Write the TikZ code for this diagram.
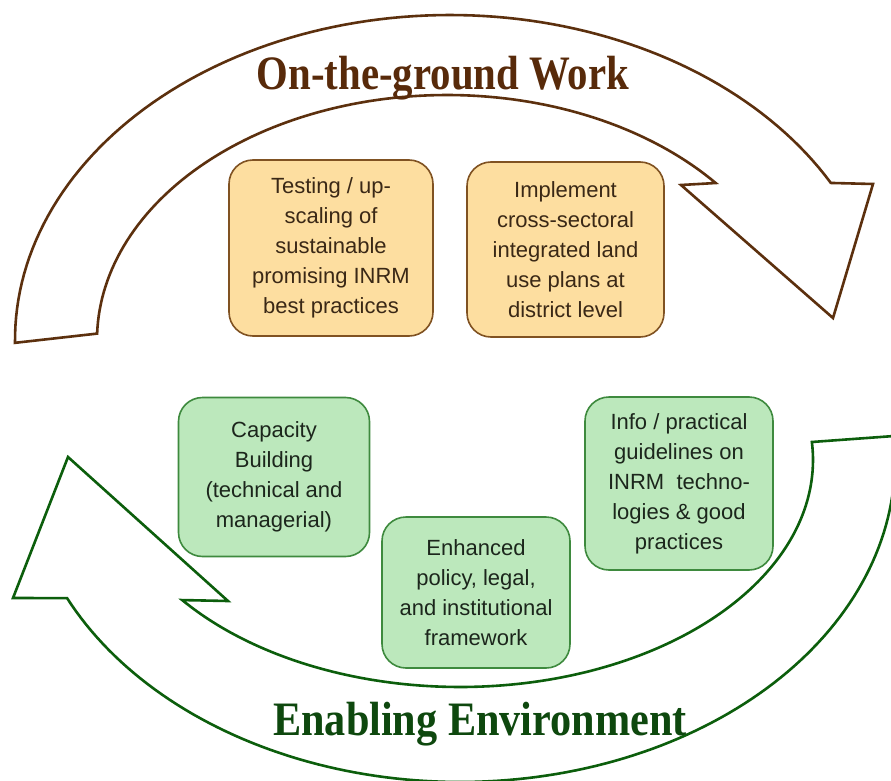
\documentclass[tikz,border=0pt]{standalone}
\usepackage{fontspec}
\usepackage{graphicx}
\setmainfont{Liberation Serif}
\setsansfont{Liberation Sans}
\definecolor{arrowbrown}{RGB}{92,48,14}
\definecolor{titlebrown}{RGB}{88,42,10}
\definecolor{arrowgreen}{RGB}{12,94,12}
\definecolor{titlegreen}{RGB}{14,72,14}
\definecolor{peach}{RGB}{253,222,160}
\definecolor{peachline}{RGB}{128,82,34}
\definecolor{mint}{RGB}{188,232,188}
\definecolor{mintline}{RGB}{62,138,62}
\definecolor{browntext}{RGB}{58,40,22}
\definecolor{greentext}{RGB}{28,38,28}
\begin{document}
\begin{tikzpicture}[x=1pt,y=-1pt,
  bigarrow/.style={line width=2.6pt, line join=miter, fill=white},
  titletext/.style={anchor=base, inner sep=0pt, font=\bfseries\fontsize{48}{50}\selectfont},
  boxbase/.style={rounded corners=24pt, line width=1.6pt, align=center, inner sep=0pt,
    font=\sffamily\fontsize{22}{30}\selectfont},
  workbox/.style={boxbase, draw=peachline, fill=peach, text=browntext},
  enablebox/.style={boxbase, draw=mintline, fill=mint, text=greentext}]
\clip (0,0) rectangle (891,781);
\fill[white] (0,0) rectangle (891,781);

% upper curved arrow, pointing down to the right
\draw[bigarrow, draw=arrowbrown] (681,185) -- (833,318) -- (873,184)
  -- plot[domain=28.9:180.5, samples=100, variable=\t] ({450+435*cos(\t)},{340-325*sin(\t)})
  -- plot[domain=178.5:39.85, samples=100, variable=\t] ({447+350*cos(\t)},{340-245*sin(\t)})
  -- cycle;

% lower curved arrow, pointing up to the left
\draw[bigarrow, draw=arrowgreen] (68,457) -- (228,601)
  -- plot[domain=141.9:-4.55, samples=120, variable=\t] ({460+353*cos(\t)},{460+227*sin(\t)})
  -- plot[domain=-4.27:154.6, samples=120, variable=\t] ({460+435*cos(\t)},{460+322*sin(\t)})
  -- (13,598) -- cycle;

% titles
\node[titletext, text=titlebrown] (worktitle) at (443,90) {\scalebox{0.85}[1]{On-the-ground Work}};
\node[titletext, text=titlegreen] (enabletitle) at (480,735) {\scalebox{0.88}[1]{Enabling Environment}};

% on-the-ground activities
\node[workbox, minimum width=204pt, minimum height=176pt] (testing) at (331,248)
  {Testing / up-\\scaling of\\sustainable\\promising INRM\\best practices};
\node[workbox, minimum width=197pt, minimum height=175pt] (implement) at (565.5,249.5)
  {Implement\\cross-sectoral\\integrated land\\use plans at\\district level};

% enabling environment activities
\node[enablebox, minimum width=191pt, minimum height=159pt] (capacity) at (274,477)
  {Capacity\\Building\\(technical and\\managerial)};
\node[enablebox, minimum width=188pt, minimum height=151pt] (policy) at (476,592.5)
  {Enhanced\\policy, legal,\\and institutional\\framework};
\node[enablebox, minimum width=188pt, minimum height=173pt] (info) at (679,483.5)
  {Info / practical\\guidelines on\\INRM\ \ techno-\\logies \& good\\practices};
\end{tikzpicture}
\end{document}
